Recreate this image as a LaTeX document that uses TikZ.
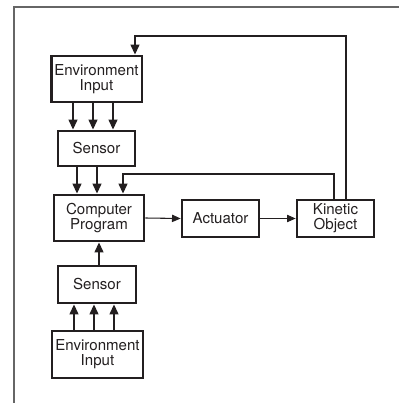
\documentclass[tikz,border=0pt]{standalone}
\usepackage{fontspec}
\setmainfont{TeX Gyre Heros}
\usetikzlibrary{arrows.meta}
\definecolor{ink}{HTML}{231F20}
\begin{document}
\begin{tikzpicture}[x=0.75pt,y=-0.75pt,
  box/.style={draw=ink,line width=2pt,rectangle,inner sep=0pt,align=center,text=ink,
    font=\fontsize{11.3}{11.25}\selectfont},
  arr/.style={draw=ink,line width=1.5pt,-{Triangle[length=7.5pt,width=6.5pt]}},
  thinarr/.style={draw=ink,line width=0.8pt,-{Triangle[length=6.5pt,width=5.5pt]}},
  frame/.style={draw=black!60,line width=1pt}]
\useasboundingbox (0,0) rectangle (399,403);
\draw[frame] (14,403) -- (14,7) -- (399,7);

\node[box,minimum width=68pt,minimum height=34.5pt] (envT) at (96.5,79) {Environment\\Input};
\node[box,minimum width=57.75pt,minimum height=26.25pt] (senT) at (96.5,148.5) {\raisebox{-4pt}{Sensor}};
\node[box,minimum width=67.5pt,minimum height=34.5pt] (comp) at (99,218) {Computer\\Program};
\node[box,minimum width=57.75pt,minimum height=27.75pt] (act) at (220.5,218.5) {Actuator};
\node[box,minimum width=57.75pt,minimum height=27.75pt] (kin) at (335.5,218.5) {Kinetic\\Object};
\node[box,minimum width=58.5pt,minimum height=27.75pt] (senB) at (97,284.5) {Sensor};
\node[box,minimum width=68.25pt,minimum height=35.25pt] (envB) at (97.5,354.5) {Environment\\Input};

\foreach \x in {73,93,113}
  \draw[arr] (envT.south -| \x,0) -- (senT.north -| \x,0);
\foreach \x in {77,97}
  \draw[arr] (senT.south -| \x,0) -- (comp.north -| \x,0);
\draw[arr] (senB.north -| 99,0) -- (comp.south -| 99,0);
\foreach \x in {74,94,114}
  \draw[arr] (envB.north -| \x,0) -- (senB.south -| \x,0);

\draw[thinarr] (comp.east) -- (act.west);
\draw[thinarr] (act.east) -- (kin.west);

\draw[arr] (kin.north -| 334,0) |- (123,174) -- (comp.north -| 123,0);
\draw[arr] (kin.north -| 346,0) |- (135,36) -- (envT.north -| 135,0);
\end{tikzpicture}
\end{document}
